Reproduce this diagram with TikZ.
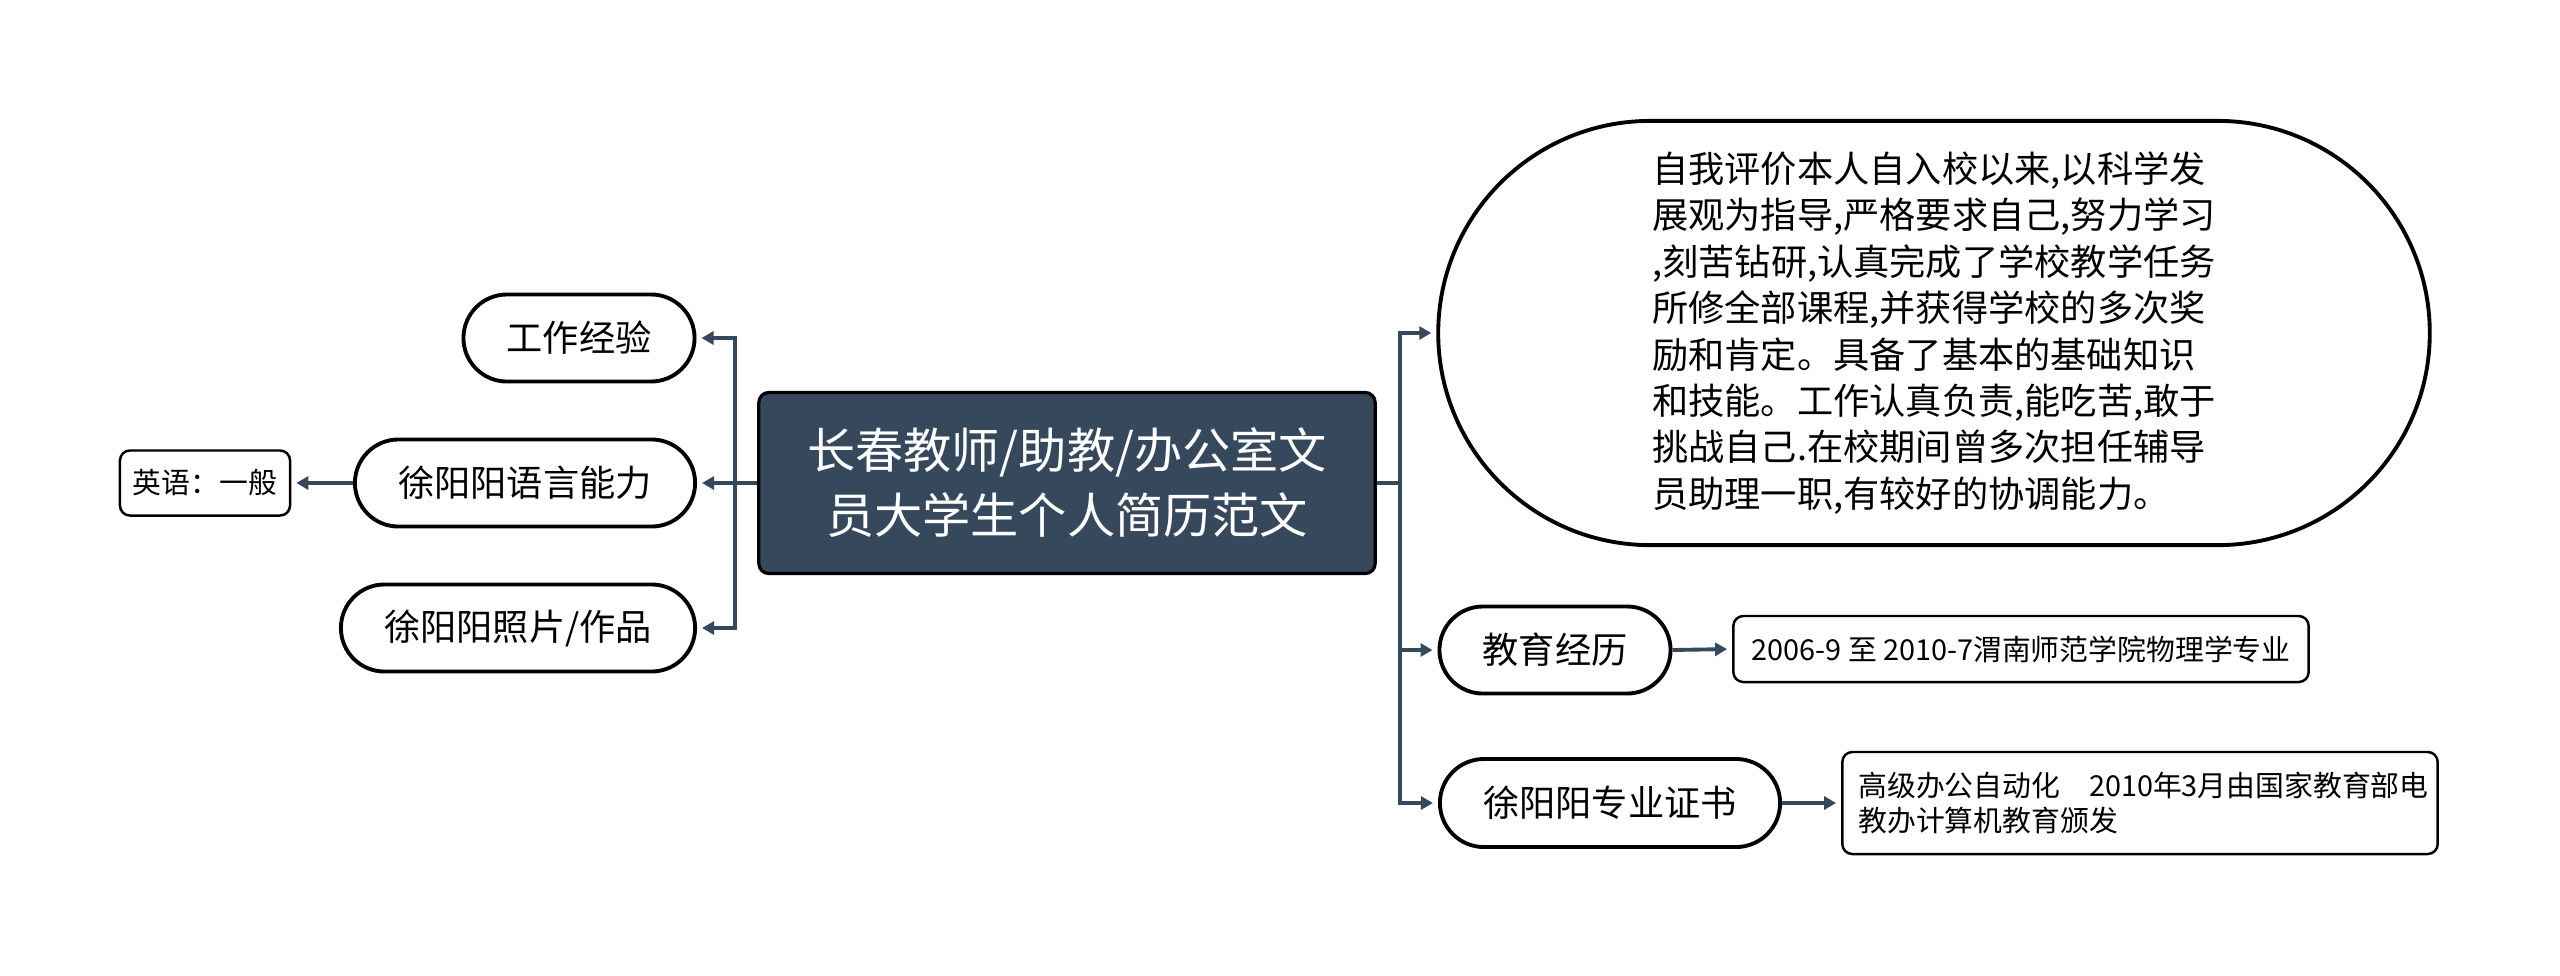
\documentclass[tikz,border=0pt]{standalone}
\usepackage{fontspec}
\setmainfont{Noto Sans CJK SC}
\usetikzlibrary{arrows.meta,shapes.misc}
\definecolor{slate}{RGB}{54,73,92}

\begin{document}
\begin{tikzpicture}[x=0.01cm, y=-0.01cm,
    topic/.style ={rectangle, rounded corners=0.1cm, draw=black, line width=0.9pt, fill=slate, text=white, align=center, inner sep=0pt, font=\fontsize{13.7pt}{18.5pt}\selectfont},
    branch/.style ={rounded rectangle, draw=black, line width=1.1pt, fill=white, inner sep=0pt, minimum height=0.87cm, font=\fontsize{10.3pt}{13.2pt}\selectfont},
    leaf/.style ={rectangle, rounded corners=0.1cm, draw=black, line width=0.7pt, fill=white, inner sep=0pt, font=\fontsize{8.2pt}{10pt}\selectfont},
    link/.style ={draw=slate, line width=1.1pt, -{Triangle[length=0.12cm,width=0.13cm]}, shorten >=0.05cm}]
   \useasboundingbox (0,0) rectangle (2560,975);
   \node[topic, minimum width=6.16cm, minimum height=1.81cm] (resume) at (1067,483) {长春教师/助教/办公室文\\员大学生个人简历范文};
   \node[branch, minimum width=2.31cm] (work) at (579,338) {工作经验};
   \node[branch, minimum width=3.40cm] (language) at (525,483) {徐阳阳语言能力};
   \node[branch, minimum width=3.54cm] (photo) at (518,628) {徐阳阳照片/作品};
   \node[leaf, minimum width=1.70cm, minimum height=0.65cm] (english) at (205,483) {英语：一般};
   \node[branch, minimum width=9.91cm, minimum height=4.24cm, align=left] (review) at (1934,333) {自我评价本人自入校以来,以科学发\\展观为指导,严格要求自己,努力学习\\,刻苦钻研,认真完成了学校教学任务\\所修全部课程,并获得学校的多次奖\\励和肯定。具备了基本的基础知识\\和技能。工作认真负责,能吃苦,敢于\\挑战自己.在校期间曾多次担任辅导\\员助理一职,有较好的协调能力。};
   \node[branch, minimum width=2.31cm] (education) at (1555,650) {教育经历};
   \node[leaf, minimum width=5.75cm, minimum height=0.66cm] (school) at (2021,649) {2006-9 至 2010-7渭南师范学院物理学专业};
   \node[branch, minimum width=3.40cm, minimum height=0.88cm] (certificate) at (1610,803) {徐阳阳专业证书};
   \node[leaf, minimum width=5.95cm, minimum height=1.02cm, text width=5.63cm, align=left, inner xsep=0.16cm] (award) at (2140,803) {高级办公自动化　2010年3月由国家教育部电\\教办计算机教育颁发};
   \draw[link] (resume.west) -- +(-22,0) |- (work.east);
   \draw[link] (resume.west) -- (language.east);
   \draw[link] (resume.west) -- +(-22,0) |- (photo.east);
   \draw[link] (language.west) -- (english.east);
   \draw[link] (resume.east) -- +(23,0) |- (review.west);
   \draw[link] (resume.east) -- +(23,0) |- (education.west);
   \draw[link] (resume.east) -- +(23,0) |- (certificate.west);
   \draw[link] (education.east) -- (school.west);
   \draw[link] (certificate.east) -- (award.west);
 \end{tikzpicture}
\end{document}
